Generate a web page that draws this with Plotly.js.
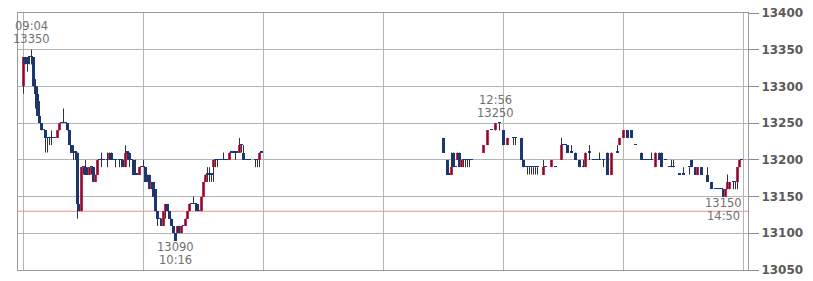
<!DOCTYPE html>
<html>
<head>
<meta charset="utf-8">
<script src="https://cdn.plot.ly/plotly-3.0.1.min.js"></script>
<style>
  html, body { margin: 0; padding: 0; background: #fff; }
  #chart { width: 813px; height: 281px; }
</style>
</head>
<body>
<div id="chart"></div>
<script>
// One-minute candles for the trading day (morning and afternoon sessions)
const day = '2024-01-01';

const times = [
  '09:00','09:01','09:02','09:03','09:04','09:05','09:06','09:07','09:08','09:09',
  '09:10','09:11','09:12','09:13','09:14','09:15','09:16','09:17','09:18','09:19',
  '09:20','09:21','09:22','09:23','09:24','09:25','09:26','09:27','09:28','09:29',
  '09:30','09:31','09:32','09:33','09:34','09:35','09:36','09:37','09:38','09:39',
  '09:40','09:42','09:43','09:44','09:45','09:46','09:48','09:49','09:50','09:51',
  '09:52','09:53','09:54','09:55','09:56','09:57','09:58','09:59','10:00','10:01',
  '10:02','10:03','10:04','10:05','10:06','10:07','10:08','10:09','10:10','10:11',
  '10:12','10:13','10:14','10:15','10:16','10:17','10:18','10:19','10:20','10:21',
  '10:22','10:23','10:24','10:25','10:26','10:27','10:28','10:29','10:30','10:31',
  '10:32','10:33','10:34','10:35','10:36','10:37','10:38','10:39','10:40','10:41',
  '10:42','10:43','10:44','10:45','10:46','10:47','10:48','10:49','10:50','10:51',
  '10:52','10:53','10:56','10:57','10:58','10:59',
  '12:30','12:32','12:33','12:34','12:35','12:36','12:37','12:38','12:39','12:40',
  '12:41','12:42','12:43','12:44','12:50','12:52','12:54','12:56','12:58','13:00',
  '13:02','13:05','13:06','13:09','13:10','13:11','13:12','13:13','13:14','13:15',
  '13:16','13:17','13:20','13:21','13:24','13:26','13:29','13:30','13:31','13:32',
  '13:34','13:36','13:38','13:40','13:41','13:43','13:45','13:46','13:47','13:48',
  '13:50','13:52','13:54','13:57','13:58','14:00','14:02','14:04','14:06','14:09',
  '14:10','14:11','14:12','14:13','14:14','14:16','14:18','14:19','14:21','14:23',
  '14:24','14:25','14:28','14:30','14:33','14:34','14:36','14:37','14:39','14:42',
  '14:44','14:46','14:47','14:48','14:49','14:50','14:51','14:52','14:53','14:55',
  '14:56','14:57','14:58','14:59'
];

const open = [
  13300,13340,13340,13340,13340,13340,13300,13290,13260,13250,
  13240,13240,13230,13230,13230,13230,13230,13230,13240,13250,
  13250,13250,13250,13240,13220,13210,13210,13210,13140,13130,
  13190,13190,13180,13180,13190,13190,13170,13180,13200,13200,
  13200,13200,13200,13210,13200,13200,13200,13200,13200,13190,
  13210,13210,13200,13200,13180,13180,13180,13190,13190,13190,
  13170,13180,13160,13170,13160,13130,13120,13120,13110,13130,
  13140,13130,13120,13110,13100,13100,13110,13100,13110,13110,
  13120,13130,13140,13140,13140,13140,13130,13130,13150,13170,
  13180,13180,13180,13190,13200,13200,13200,13200,13200,13200,
  13200,13200,13210,13210,13210,13210,13210,13220,13210,13200,
  13200,13200,13200,13200,13200,13210,
  13230,13200,13180,13180,13210,13190,13200,13210,13190,13200,
  13200,13200,13200,13200,13210,13220,13240,13240,13250,13240,
  13220,13230,13230,13230,13200,13190,13190,13190,13190,13190,
  13190,13190,13180,13190,13190,13190,13200,13220,13220,13220,
  13210,13210,13200,13190,13190,13210,13200,13200,13200,13200,
  13200,13210,13180,13210,13220,13230,13240,13240,13220,13210,
  13200,13200,13200,13200,13200,13190,13210,13210,13200,13190,
  13190,13190,13180,13180,13190,13200,13190,13180,13190,13180,
  13170,13160,13160,13160,13160,13160,13150,13160,13160,13170,
  13170,13170,13190,13200
];

const high = [
  13340,13340,13340,13340,13350,13340,13310,13300,13280,13250,
  13240,13240,13230,13230,13240,13230,13230,13240,13250,13250,
  13270,13250,13250,13240,13220,13220,13210,13210,13140,13190,
  13190,13200,13190,13190,13190,13190,13180,13200,13200,13210,
  13200,13210,13210,13210,13200,13200,13200,13200,13200,13220,
  13210,13210,13200,13200,13200,13180,13190,13190,13200,13190,
  13180,13180,13170,13170,13160,13130,13120,13120,13130,13140,
  13140,13130,13120,13110,13100,13110,13110,13110,13110,13120,
  13130,13140,13140,13150,13140,13140,13130,13150,13170,13180,
  13190,13190,13180,13200,13200,13200,13200,13200,13210,13200,
  13200,13210,13210,13210,13210,13210,13230,13220,13220,13200,
  13200,13200,13200,13200,13210,13210,
  13230,13200,13180,13210,13210,13190,13210,13210,13200,13200,
  13200,13200,13200,13200,13220,13240,13240,13250,13250,13240,
  13230,13230,13230,13230,13200,13190,13190,13190,13190,13190,
  13190,13190,13200,13190,13200,13190,13230,13220,13220,13220,
  13220,13210,13200,13200,13210,13220,13200,13200,13200,13210,
  13200,13210,13210,13220,13230,13240,13240,13240,13220,13210,
  13200,13200,13200,13200,13210,13210,13210,13210,13200,13190,
  13200,13200,13180,13190,13190,13200,13190,13190,13190,13190,
  13170,13160,13160,13160,13160,13160,13160,13180,13170,13170,
  13170,13190,13200,13200
];

const low = [
  13290,13330,13320,13330,13330,13300,13270,13260,13250,13240,
  13240,13210,13210,13220,13220,13230,13230,13230,13240,13250,
  13250,13250,13240,13220,13210,13200,13200,13120,13130,13130,
  13180,13180,13180,13180,13180,13170,13170,13180,13200,13190,
  13200,13190,13200,13200,13200,13190,13190,13190,13190,13190,
  13200,13190,13200,13180,13180,13180,13180,13190,13190,13170,
  13170,13160,13160,13150,13130,13110,13120,13110,13110,13120,
  13130,13120,13110,13100,13090,13100,13100,13100,13110,13110,
  13120,13130,13140,13140,13130,13130,13130,13130,13150,13170,
  13170,13170,13170,13170,13190,13190,13200,13200,13200,13200,
  13200,13200,13210,13210,13200,13210,13210,13210,13200,13200,
  13200,13200,13190,13190,13190,13210,
  13210,13180,13180,13180,13190,13190,13200,13190,13190,13190,
  13190,13190,13190,13200,13210,13220,13240,13240,13240,13220,
  13220,13220,13220,13200,13190,13190,13180,13180,13180,13180,
  13180,13180,13180,13190,13190,13190,13200,13220,13220,13210,
  13210,13200,13190,13190,13190,13200,13200,13200,13200,13200,
  13190,13180,13180,13210,13220,13230,13230,13230,13220,13200,
  13200,13200,13200,13200,13200,13190,13200,13190,13200,13190,
  13190,13190,13180,13180,13180,13190,13180,13180,13180,13170,
  13160,13160,13160,13160,13160,13150,13150,13160,13160,13160,
  13160,13160,13190,13200
];

const close = [
  13340,13330,13330,13340,13340,13300,13290,13260,13250,13240,
  13240,13230,13230,13230,13230,13230,13230,13240,13250,13250,
  13250,13250,13240,13220,13210,13210,13210,13140,13130,13190,
  13190,13180,13180,13190,13190,13170,13180,13200,13200,13200,
  13200,13200,13210,13200,13200,13200,13200,13200,13190,13210,
  13210,13200,13200,13180,13180,13180,13190,13190,13190,13170,
  13170,13160,13170,13150,13130,13120,13120,13110,13130,13140,
  13130,13120,13110,13100,13090,13110,13100,13110,13110,13120,
  13130,13140,13140,13140,13140,13130,13130,13150,13170,13180,
  13180,13180,13180,13200,13200,13200,13200,13200,13200,13200,
  13200,13210,13210,13210,13210,13210,13220,13220,13200,13200,
  13200,13200,13200,13200,13210,13210,
  13210,13180,13180,13190,13190,13190,13210,13190,13200,13200,
  13200,13200,13200,13200,13220,13240,13240,13250,13250,13220,
  13230,13230,13230,13200,13190,13190,13190,13190,13190,13190,
  13190,13190,13190,13190,13200,13190,13220,13220,13220,13210,
  13210,13200,13190,13190,13210,13210,13200,13200,13200,13200,
  13200,13180,13210,13210,13230,13240,13230,13230,13220,13200,
  13200,13200,13200,13200,13200,13210,13200,13190,13200,13190,
  13190,13190,13180,13180,13190,13190,13180,13190,13180,13170,
  13160,13160,13160,13160,13160,13150,13160,13170,13170,13170,
  13170,13190,13200,13200
];

const prevClose = 13130;
const yTicks = [13050, 13100, 13150, 13200, 13250, 13300, 13350, 13400];

const RED = '#f2184e';
const BLUE = '#0b3a9b';
const WICK = '#333333';
const GRID = '#b4b4b4';
const FRAME = '#9a9a9a';

const stamp = t => `${day} ${t}:00`;
const xs = times.map(stamp);

// candle bodies drawn as floating bars; flat candles get a hairline body
const bodyBase = open.map((o, i) => Math.min(o, close[i]));
const bodyLen = open.map((o, i) => Math.max(Math.abs(close[i] - o), 1.5));
const bodyColor = open.map((o, i) => close[i] > o ? RED : BLUE);

// high-low wicks
const wickX = [], wickY = [];
xs.forEach((x, i) => {
  if (high[i] > low[i]) {
    wickX.push(x, x, null);
    wickY.push(low[i], high[i], null);
  }
});

const wicks = {
  type: 'scatter', mode: 'lines', x: wickX, y: wickY,
  line: { color: WICK, width: 1 }, hoverinfo: 'skip', showlegend: false
};
const bodies = {
  type: 'bar', x: xs, y: bodyLen, base: bodyBase, width: 90000,
  marker: { color: bodyColor, line: { width: 0 } },
  hoverinfo: 'skip', showlegend: false
};

// session high / low callouts
const labelFont = { family: 'DejaVu Sans', size: 11.5, color: '#707070' };
const annotations = [];
function sessionMarks(inSession) {
  let hi = -1, lo = -1;
  times.forEach((t, i) => {
    if (!inSession(t)) return;
    if (hi < 0 || high[i] > high[hi]) hi = i;
    if (lo < 0 || low[i] < low[lo]) lo = i;
  });
  const base = { showarrow: false, xanchor: 'center', yanchor: 'middle', font: labelFont };
  annotations.push(
    Object.assign({}, base, { x: xs[hi], y: high[hi], text: times[hi], yshift: 23.4 }),
    Object.assign({}, base, { x: xs[hi], y: high[hi], text: String(high[hi]), yshift: 10.5 }),
    Object.assign({}, base, { x: xs[lo], y: low[lo], text: String(low[lo]), yshift: -6.4 }),
    Object.assign({}, base, { x: xs[lo], y: low[lo], text: times[lo], yshift: -19.4 })
  );
}
sessionMarks(t => t < '12:00');
sessionMarks(t => t >= '12:00');

// the time range is offset by a quarter minute so one-pixel wicks land on pixel centres
const layout = {
  width: 813, height: 281,
  margin: { l: 18, r: 65, t: 13, b: 11, pad: 0 },
  paper_bgcolor: '#ffffff', plot_bgcolor: '#ffffff',
  showlegend: false,
  bargap: 0,
  xaxis: {
    type: 'date',
    range: [`${day} 08:57:15`, `${day} 15:02:15`],
    tick0: stamp('09:00'), dtick: 3600000,
    showticklabels: false, ticks: '',
    showgrid: true, gridcolor: GRID, gridwidth: 1,
    showline: true, linecolor: FRAME, linewidth: 1, mirror: true,
    zeroline: false, fixedrange: true
  },
  yaxis: {
    side: 'right',
    range: [13050, 13400],
    tickmode: 'array', tickvals: yTicks, ticktext: yTicks.map(String),
    ticks: 'outside', ticklen: 10, tickcolor: '#8a8a8a', tickwidth: 1,
    tickfont: { family: 'DejaVu Sans', size: 12, color: '#5a5a5a', weight: 'bold' },
    showgrid: true, gridcolor: GRID, gridwidth: 1,
    showline: true, linecolor: FRAME, linewidth: 1, mirror: true,
    zeroline: false, fixedrange: true
  },
  shapes: [{
    type: 'line', layer: 'between', xref: 'paper', x0: 0, x1: 1,
    yref: 'y', y0: prevClose, y1: prevClose,
    line: { color: '#ef8f8f', width: 1 }
  }],
  annotations: annotations
};

Plotly.newPlot('chart', [wicks, bodies], layout, { displayModeBar: false, staticPlot: true });
</script>
</body>
</html>
